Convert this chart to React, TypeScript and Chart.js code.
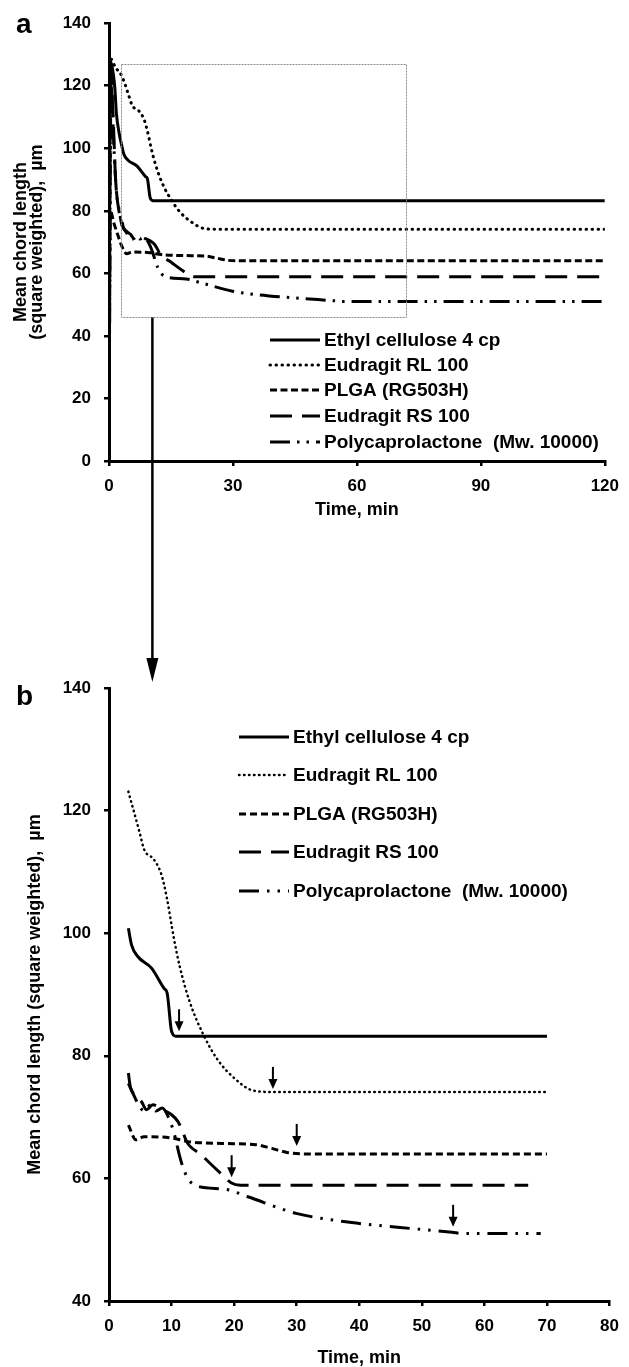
import React, { useEffect, useRef } from "react";
import { Chart, registerables } from "chart.js";

Chart.register(...registerables);

const FONT = "'Liberation Sans', Arial, Helvetica, sans-serif";

// ---------- data ----------
const seriesNames = [
  "Ethyl cellulose 4 cp",
  "Eudragit RL 100",
  "PLGA (RG503H)",
  "Eudragit RS 100",
  "Polycaprolactone  (Mw. 10000)",
];

const ethylTime = [0, 0.3, 1.4, 1.8, 2.5, 3.1, 3.6, 4.6, 6.8, 8.8, 9.3, 10.0, 10.7, 30, 70, 120];
const ethylSize = [0, 128, 119.5, 111, 104.5, 100.8, 98.1, 96.2, 94.3, 91.0, 90.2, 84.0, 83.2, 83.2, 83.2, 83.2];

const rlTime = [0, 0.5, 1.5, 3.1, 4.9, 5.6, 7.2, 8.4, 9.2, 10.4, 11.3, 12.9, 15.2, 17.4, 20.3, 22.8, 26, 70, 120];
const rlSize = [0, 128.5, 126, 123.1, 116.4, 113.7, 112, 109.5, 106, 99, 94.6, 88.8, 83.2, 79.3, 76.1, 74.4, 74.1, 74.1, 74.1];

const plgaTime = [0, 0.3, 1.2, 2.2, 3.1, 4.3, 5.6, 10, 12.6, 18, 23.5, 26, 28.6, 31.1, 70, 120];
const plgaSize = [0, 80, 76, 72, 68.7, 66.3, 66.8, 66.6, 66.0, 65.7, 65.5, 64.9, 64.2, 64.0, 64.0, 64.0];

const rsTime = [0, 0.4, 1.0, 1.6, 2.4, 3.1, 3.4, 4.1, 5.2, 6.0, 7.0, 8.0, 9.0, 10.0, 11.0, 11.8, 12.4, 14.8, 15.8, 18.2, 19.5, 21, 67, 120];
const rsSize = [0, 125, 110, 90, 80, 77.2, 75.0, 73.6, 72.5, 71.2, 72.0, 71.6, 71.0, 70.4, 69.3, 67.6, 66.0, 63.8, 62.8, 60.5, 59.3, 58.9, 58.9, 58.9];

const pclTime = [0, 0.5, 1.2, 1.8, 2.5, 3.1, 4.0, 5.0, 5.8, 6.6, 7.5, 8.5, 9.7, 10.5, 11.3, 11.8, 12.6, 13.9, 18.7, 22.2, 29.9, 38.8, 46.5, 54.8, 56.7, 69, 120];
const pclSize = [0, 120, 100, 86, 80, 75.5, 73.5, 71.5, 71.0, 72.0, 71.0, 71.5, 69.5, 67.0, 63.6, 61.9, 60.0, 58.8, 58.2, 57.0, 54.3, 52.8, 52.0, 51.2, 51.0, 51.0, 51.0];

const seriesTimes = [ethylTime, rlTime, plgaTime, rsTime, pclTime];
const seriesSizes = [ethylSize, rlSize, plgaSize, rsSize, pclSize];

// panel b shows the zoomed window of the same runs
const panelBStart = 3;
const panelBEnd = [70, 70, 70, 67, 69];

// zoom window drawn on panel a: [tMin, tMax, sizeMin, sizeMax]
const zoomWindow = [3, 72, 46, 127];
const zoomArrowTime = 10.5;

// steady-state markers in panel b
const markerTime = [11.2, 26.2, 30, 19.6, 55];
const markerSize = [84.0, 74.6, 65.3, 60.2, 52.1];

// ---------- styles ----------
type LineStyle = { dash: number[]; width: number; cap: CanvasLineCap };
const stylesA: LineStyle[] = [
  { dash: [], width: 3, cap: "butt" },
  { dash: [0.5, 5.5], width: 3, cap: "round" },
  { dash: [7, 3.5], width: 3, cap: "butt" },
  { dash: [22, 10], width: 3, cap: "butt" },
  { dash: [20, 7, 2.5, 7, 2.5, 7], width: 3, cap: "butt" },
];
const stylesB: LineStyle[] = [
  { dash: [], width: 3, cap: "butt" },
  { dash: [0.5, 4.5], width: 2.5, cap: "round" },
  { dash: [7, 4], width: 3, cap: "butt" },
  { dash: [22, 10], width: 3, cap: "butt" },
  { dash: [20, 8, 2.5, 8, 2.5, 8], width: 3, cap: "butt" },
];

function pick(times: number[], values: number[], from: number, to: number) {
  const pts: { x: number; y: number }[] = [];
  for (let i = 0; i < times.length; i++) {
    if (times[i] >= from && times[i] <= to) pts.push({ x: times[i], y: values[i] });
  }
  return pts;
}

function drawLegend(ctx: CanvasRenderingContext2D, x0: number, rows: number[], styles: LineStyle[]) {
  ctx.save();
  ctx.fillStyle = "#000";
  ctx.strokeStyle = "#000";
  ctx.font = `bold 19px ${FONT}`;
  ctx.textBaseline = "middle";
  ctx.textAlign = "left";
  rows.forEach((y, i) => {
    const st = styles[i];
    ctx.lineWidth = st.width;
    ctx.lineCap = st.cap;
    ctx.setLineDash(st.dash);
    ctx.beginPath();
    ctx.moveTo(x0, y);
    ctx.lineTo(x0 + 50, y);
    ctx.stroke();
    ctx.fillText(seriesNames[i], x0 + 54, y + 1);
  });
  ctx.restore();
}

function tickFont() {
  return { family: FONT, size: 17, weight: "bold" as const };
}

function buildDatasets(styles: LineStyle[], from: number, ends: number[]) {
  return seriesTimes.map((t, i) => ({
    label: seriesNames[i],
    data: pick(t, seriesSizes[i], from, ends[i]),
    borderColor: "#000",
    backgroundColor: "#000",
    borderWidth: styles[i].width,
    borderDash: styles[i].dash,
    borderCapStyle: styles[i].cap,
    pointRadius: 0,
    fill: false,
    cubicInterpolationMode: "monotone" as const,
  }));
}

function axes(xMin: number, xMax: number, xStep: number, yMin: number, yMax: number, yStep: number, xHeight: number, yTitle: string | string[], yTitlePad: number) {
  return {
    x: {
      type: "linear" as const,
      min: xMin,
      max: xMax,
      ticks: { stepSize: xStep, color: "#000", font: tickFont(), padding: 10, maxRotation: 0, autoSkip: false },
      grid: { drawOnChartArea: false, color: "#000", lineWidth: 2.5, tickLength: 5 },
      border: { color: "#000", width: 3 },
      title: {
        display: true,
        text: "Time, min",
        color: "#000",
        font: { family: FONT, size: 18, weight: "bold" as const, lineHeight: 1 },
        padding: { top: 0, bottom: 0 },
      },
      afterFit: (s: any) => {
        s.height = xHeight;
      },
    },
    y: {
      type: "linear" as const,
      min: yMin,
      max: yMax,
      ticks: { stepSize: yStep, color: "#000", font: tickFont(), padding: 13 },
      grid: { drawOnChartArea: false, color: "#000", lineWidth: 2.5, tickLength: 5 },
      border: { color: "#000", width: 3 },
      title: {
        display: true,
        text: yTitle,
        color: "#000",
        font: { family: FONT, size: 18, weight: "bold" as const, lineHeight: 16 / 18 },
        padding: { top: yTitlePad, bottom: 0 },
      },
      afterFit: (s: any) => {
        s.width = 109;
      },
    },
  };
}

const panelAPlugin = {
  id: "panelA",
  afterDraw(chart: any) {
    const { ctx } = chart;
    const x = chart.scales.x;
    const y = chart.scales.y;
    ctx.save();
    // zoom window
    const l = Math.round(x.getPixelForValue(zoomWindow[0])) + 0.5;
    const r = Math.round(x.getPixelForValue(zoomWindow[1])) + 0.5;
    const b = Math.round(y.getPixelForValue(zoomWindow[2])) + 0.5;
    const t = Math.round(y.getPixelForValue(zoomWindow[3])) + 0.5;
    ctx.strokeStyle = "#8a8a8a";
    ctx.lineWidth = 1;
    ctx.setLineDash([2, 1]);
    ctx.strokeRect(l, t, r - l, b - t);
    // arrow towards panel b
    ctx.setLineDash([]);
    const ax = x.getPixelForValue(zoomArrowTime);
    const tip = 682;
    ctx.strokeStyle = "#000";
    ctx.fillStyle = "#000";
    ctx.lineWidth = 2.5;
    ctx.beginPath();
    ctx.moveTo(ax, b);
    ctx.lineTo(ax, tip - 20);
    ctx.stroke();
    ctx.beginPath();
    ctx.moveTo(ax - 6, tip - 24);
    ctx.lineTo(ax + 6, tip - 24);
    ctx.lineTo(ax, tip);
    ctx.closePath();
    ctx.fill();
    // panel letter
    ctx.font = `bold 28px ${FONT}`;
    ctx.textBaseline = "alphabetic";
    ctx.fillText("a", 16, 33);
    ctx.restore();
    drawLegend(ctx, 270, [340, 365, 390, 416, 442], stylesA);
  },
};

const panelBPlugin = {
  id: "panelB",
  afterDraw(chart: any) {
    const { ctx } = chart;
    const x = chart.scales.x;
    const y = chart.scales.y;
    ctx.save();
    ctx.strokeStyle = "#000";
    ctx.fillStyle = "#000";
    ctx.lineWidth = 2;
    ctx.setLineDash([]);
    markerTime.forEach((t, i) => {
      const px = x.getPixelForValue(t);
      const py = y.getPixelForValue(markerSize[i]);
      ctx.beginPath();
      ctx.moveTo(px, py - 22);
      ctx.lineTo(px, py - 8);
      ctx.stroke();
      ctx.beginPath();
      ctx.moveTo(px - 4.5, py - 10);
      ctx.lineTo(px + 4.5, py - 10);
      ctx.lineTo(px, py);
      ctx.closePath();
      ctx.fill();
    });
    ctx.font = `bold 28px ${FONT}`;
    ctx.textBaseline = "alphabetic";
    ctx.fillText("b", 16, 65);
    ctx.restore();
    drawLegend(ctx, 239, [97, 135, 174, 212, 251], stylesB);
  },
};

export default function App() {
  const refA = useRef<HTMLCanvasElement>(null);
  const refB = useRef<HTMLCanvasElement>(null);

  useEffect(() => {
    document.body.style.margin = "0";
    const chartA = new Chart(refA.current as HTMLCanvasElement, {
      type: "line",
      data: { datasets: buildDatasets(stylesA, 0, [120, 120, 120, 120, 120]) as any },
      options: {
        responsive: false,
        animation: false,
        devicePixelRatio: 1,
        events: [],
        layout: { padding: { left: 0, right: 16, top: 18, bottom: 700 - 461 - 58 } },
        plugins: { legend: { display: false }, tooltip: { enabled: false } },
        scales: axes(0, 120, 30, 0, 140, 20, 58, ["Mean chord length", "(square weighted),  µm"], 13) as any,
      },
      plugins: [panelAPlugin],
    });
    const chartB = new Chart(refB.current as HTMLCanvasElement, {
      type: "line",
      data: { datasets: buildDatasets(stylesB, panelBStart, panelBEnd) as any },
      options: {
        responsive: false,
        animation: false,
        devicePixelRatio: 1,
        events: [],
        layout: { padding: { left: 0, right: 18, top: 48, bottom: 0 } },
        plugins: { legend: { display: false }, tooltip: { enabled: false } },
        scales: axes(0, 80, 10, 40, 140, 20, 66, "Mean chord length (square weighted),  µm", 27) as any,
      },
      plugins: [panelBPlugin],
    });
    return () => {
      chartA.destroy();
      chartB.destroy();
    };
  }, []);

  return (
    <div style={{ position: "relative", width: 629, height: 1367, background: "#fff" }}>
      <canvas ref={refA} width={629} height={700} style={{ position: "absolute", left: 0, top: 0, width: 629, height: 700 }} />
      <canvas ref={refB} width={629} height={727} style={{ position: "absolute", left: 0, top: 640, width: 629, height: 727 }} />
    </div>
  );
}
